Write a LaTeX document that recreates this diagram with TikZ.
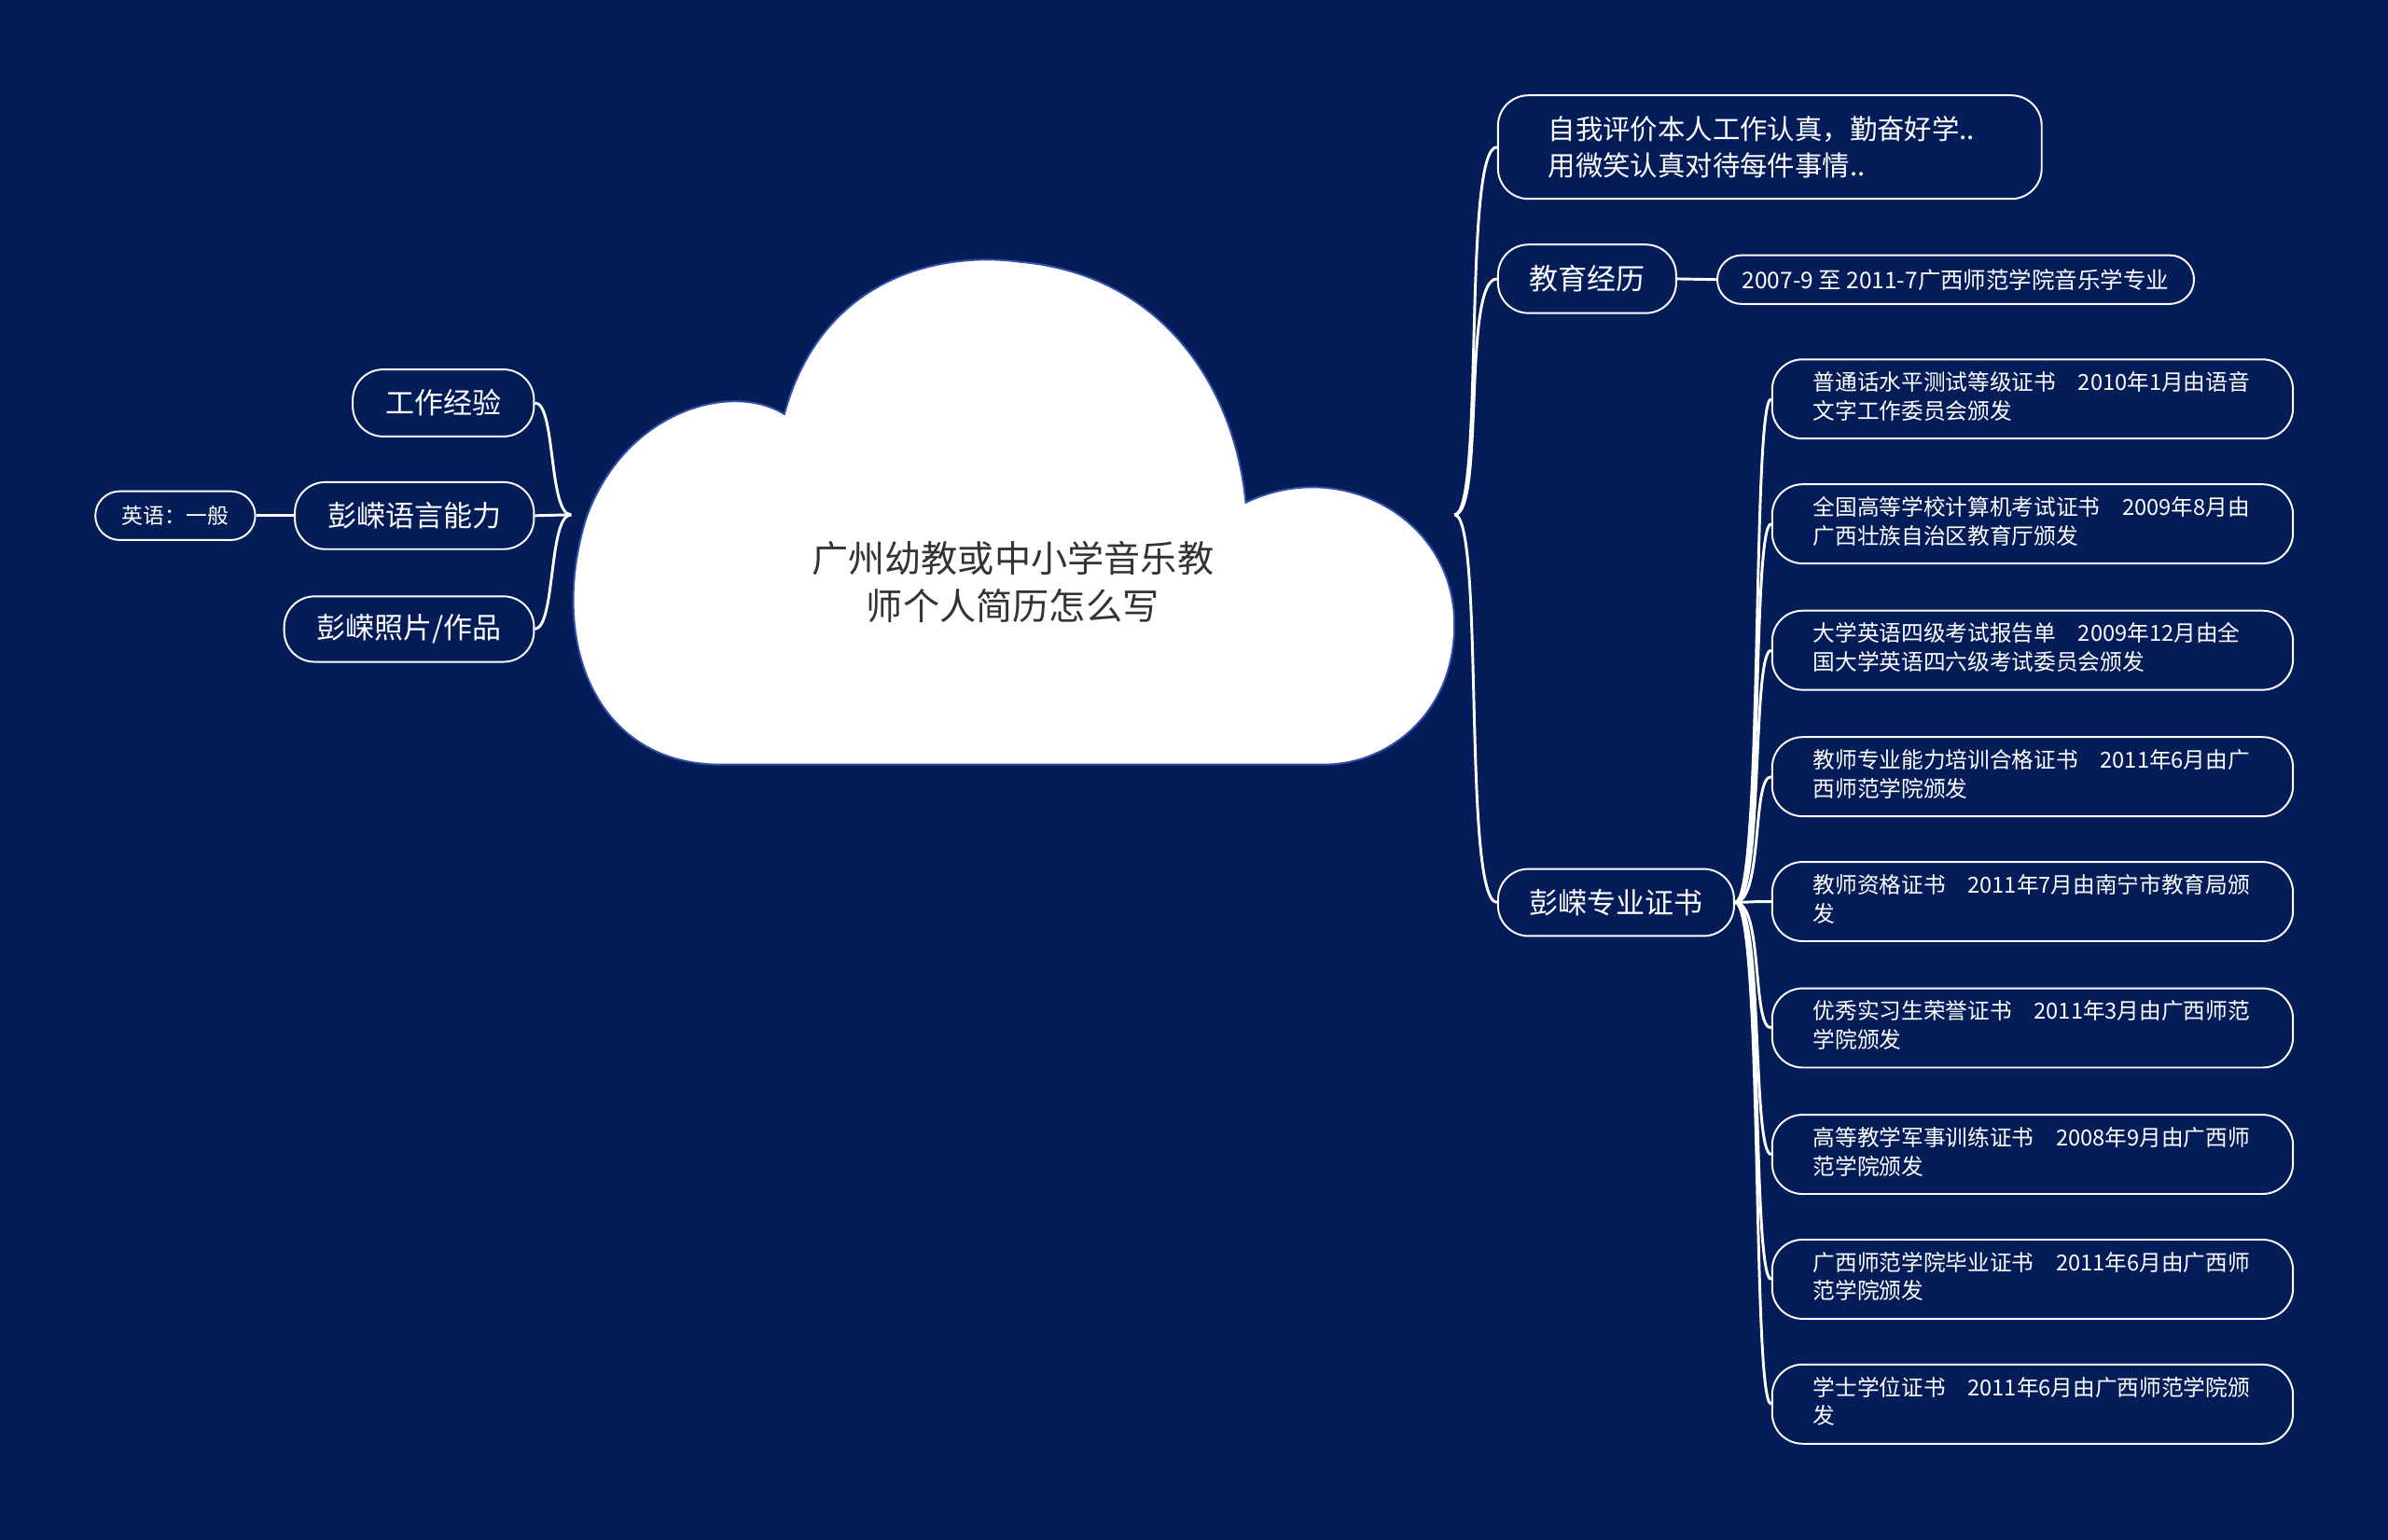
\documentclass[tikz,border=0pt]{standalone}
\usepackage{fontspec}
\setmainfont{Noto Sans CJK SC}
\definecolor{bg}{RGB}{4,28,88}
\definecolor{cloudline}{RGB}{50,80,170}
\tikzset{
 box/.style={draw=white,line width=1.2pt,rounded corners=20pt,text=white,inner sep=0pt,anchor=north west},
 link/.style={draw=white,line width=1.8pt},
}
\newcommand{\fs}[1]{\fontsize{#1}{\dimexpr #1pt*13/10\relax}\selectfont}
\begin{document}
\begin{tikzpicture}[x=1pt,y=-1pt]
\fill[bg] (0,0) rectangle (1568,1011);
\useasboundingbox (0,0) rectangle (1568,1011);
% cloud
\filldraw[fill=white,draw=cloudline,line width=1.2pt]
 (470,502) .. controls (390,500) and (360,420) .. (385,340)
 .. controls (410,270) and (480,250) .. (515,272)
 .. controls (540,180) and (620,165) .. (670,172)
 .. controls (760,180) and (810,250) .. (818,330)
 .. controls (880,300) and (955,340) .. (955,410)
 .. controls (955,470) and (910,502) .. (870,502) -- cycle;
\node[align=center,font=\fs{24},text=black!80] (root) at (665,382) {广州幼教或中小学音乐教\\师个人简历怎么写};
\coordinate (rr) at (955,338);
\coordinate (rl) at (375,338);
% right nodes
\node[box,minimum width=357pt,minimum height=68pt,text width=357pt,align=left,font=\fs{18}] (n1) at (983,62) {\hspace*{33pt}自我评价本人工作认真，勤奋好学..\\\hspace*{33pt}用微笑认真对待每件事情..};
\node[box,minimum width=117pt,minimum height=45pt,font=\fs{19}] (edu) at (983,160) {教育经历};
\node[box,minimum width=313pt,minimum height=32pt,rounded corners=16pt,font=\fs{15}] (edu1) at (1127,167) {2007-9 至 2011-7广西师范学院音乐学专业};
\node[box,minimum width=155pt,minimum height=44pt,font=\fs{19}] (cert) at (983,570) {彭嵘专业证书};
\draw[link] (rr) .. controls (975,338) and (960,96) .. (n1.west);
\draw[link] (rr) .. controls (975,338) and (960,183) .. (edu.west);
\draw[link] (rr) .. controls (975,338) and (960,592) .. (cert.west);
\draw[link] (edu.east) -- (edu1.west);
\foreach \i/\y/\t in {
 1/262/{普通话水平测试等级证书\quad 2010年1月由语音\\文字工作委员会颁发},
 2/344/{全国高等学校计算机考试证书\quad 2009年8月由\\广西壮族自治区教育厅颁发},
 3/427/{大学英语四级考试报告单\quad 2009年12月由全\\国大学英语四六级考试委员会颁发},
 4/510/{教师专业能力培训合格证书\quad 2011年6月由广\\西师范学院颁发},
 5/592/{教师资格证书\quad 2011年7月由南宁市教育局颁\\发},
 6/675/{优秀实习生荣誉证书\quad 2011年3月由广西师范\\学院颁发},
 7/758/{高等教学军事训练证书\quad 2008年9月由广西师\\范学院颁发},
 8/840/{广西师范学院毕业证书\quad 2011年6月由广西师\\范学院颁发},
 9/922/{学士学位证书\quad 2011年6月由广西师范学院颁\\发}}{
 \node[box,anchor=west,minimum width=342pt,minimum height=52pt,text width=342pt,align=left,font=\fs{14.5}] (c\i) at (1163,\y) {\hspace*{27pt}\begin{tabular}{@{}l@{}}\t\end{tabular}};
 \draw[link] (cert.east) .. controls (1158,592) and (1150,\y) .. (c\i.west);
}
% left nodes
\node[box,minimum width=119pt,minimum height=44pt,font=\fs{19}] (l1) at (231,242) {工作经验};
\node[box,minimum width=157pt,minimum height=44pt,font=\fs{19}] (l2) at (193,316) {彭嵘语言能力};
\node[box,minimum width=164pt,minimum height=43pt,font=\fs{19}] (l3) at (186,391) {彭嵘照片/作品};
\node[box,minimum width=105pt,minimum height=32pt,rounded corners=16pt,font=\fs{14}] (l21) at (62,322) {英语：一般};
\draw[link] (rl) .. controls (360,338) and (365,264) .. (l1.east);
\draw[link] (rl) -- (l2.east);
\draw[link] (rl) .. controls (360,338) and (365,412) .. (l3.east);
\draw[link] (l2.west) -- (l21.east);
\end{tikzpicture}
\end{document}
